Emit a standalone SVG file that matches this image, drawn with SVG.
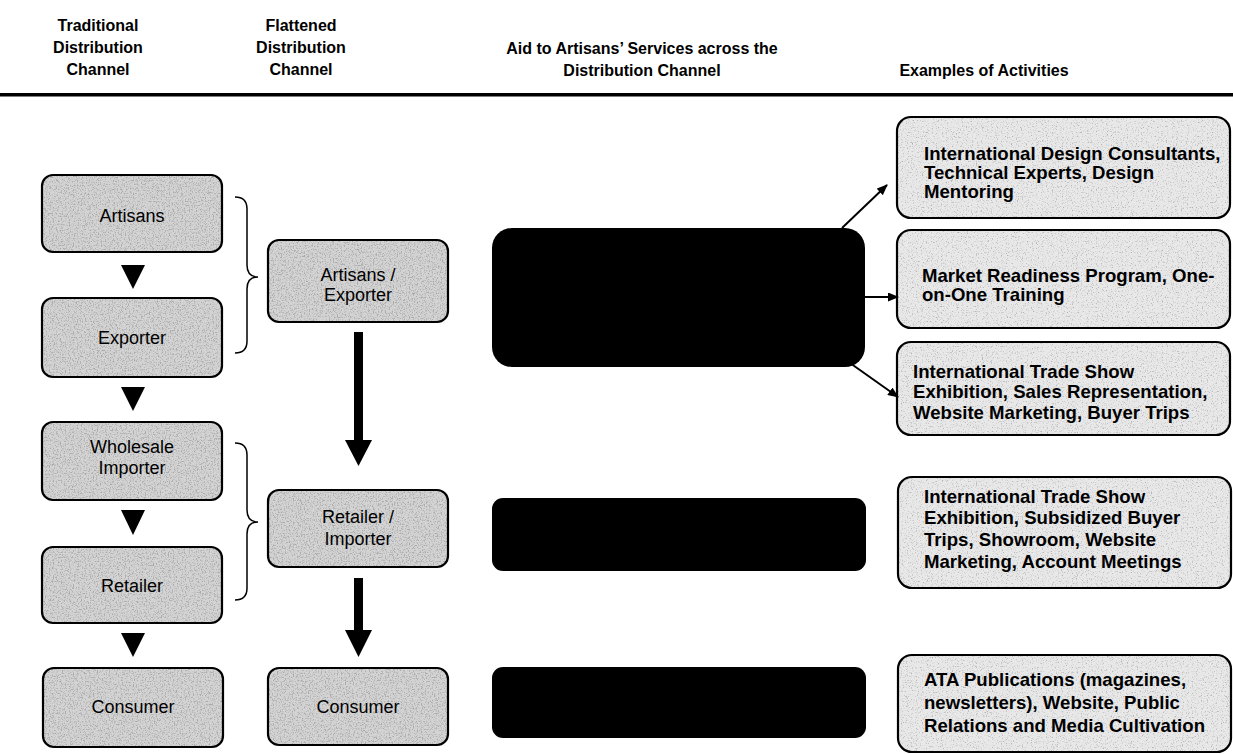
<svg xmlns="http://www.w3.org/2000/svg" width="1233" height="754" viewBox="0 0 1233 754">
  <style>
    .hdr { font-family: "Liberation Sans", Arial, sans-serif; font-weight: bold; font-size: 16px; fill: #000; text-anchor: middle; }
    .lbl { font-family: "Liberation Sans", Arial, sans-serif; font-size: 18px; fill: #000; text-anchor: middle; }
    .act { font-family: "Liberation Sans", Arial, sans-serif; font-weight: bold; font-size: 18.6px; fill: #000; }
    .boxL { fill: #d4d4d4; filter: url(#grainDark); }
    .boxR { fill: #e8e8e8; filter: url(#grainLight); }
    .edge { fill: none; stroke: #000; stroke-width: 2.2; }
    .blk { fill: #000; }
    .brace { fill: none; stroke: #000; stroke-width: 1.5; }
    .conn { stroke: #000; stroke-width: 2; fill: none; marker-end: url(#ah); }
  </style>
  <defs>
    <filter id="grainDark" x="0" y="0" width="1" height="1">
      <feTurbulence type="fractalNoise" baseFrequency="0.75" numOctaves="2" seed="4" result="t"/>
      <feColorMatrix in="t" type="matrix" values="0 0 0 0 0.4  0 0 0 0 0.4  0 0 0 0 0.4  4 0 0 0 -1.9" result="sp"/>
      <feComposite in="sp" in2="SourceGraphic" operator="in" result="spc"/>
      <feMerge><feMergeNode in="SourceGraphic"/><feMergeNode in="spc"/></feMerge>
    </filter>
    <filter id="grainLight" x="0" y="0" width="1" height="1">
      <feTurbulence type="fractalNoise" baseFrequency="0.8" numOctaves="2" seed="9" result="t"/>
      <feColorMatrix in="t" type="matrix" values="0 0 0 0 0.45  0 0 0 0 0.45  0 0 0 0 0.45  4 0 0 0 -2.2" result="sp"/>
      <feComposite in="sp" in2="SourceGraphic" operator="in" result="spc"/>
      <feMerge><feMergeNode in="SourceGraphic"/><feMergeNode in="spc"/></feMerge>
    </filter>
    <marker id="ah" markerWidth="11" markerHeight="9" refX="10" refY="4.5" orient="auto" markerUnits="userSpaceOnUse">
      <path d="M0,0 L11,4.5 L0,9 Z" fill="#000"/>
    </marker>
  </defs>

  <rect x="0" y="0" width="1233" height="754" fill="#fff"/>

  <g id="header">
    <text class="hdr" x="98" y="31">Traditional</text>
    <text class="hdr" x="98" y="53">Distribution</text>
    <text class="hdr" x="98" y="75">Channel</text>
    <text class="hdr" x="301" y="31">Flattened</text>
    <text class="hdr" x="301" y="53">Distribution</text>
    <text class="hdr" x="301" y="75">Channel</text>
    <text class="hdr" x="642" y="54">Aid to Artisans’ Services across the</text>
    <text class="hdr" x="642" y="76">Distribution Channel</text>
    <text class="hdr" x="984" y="76">Examples of Activities</text>
    <rect x="0" y="93" width="1233" height="3.5" fill="#000"/>
  </g>

  <g id="trad-artisans">
    <rect class="boxL" x="42" y="175" width="180" height="77" rx="11"/>
    <rect class="edge" x="42" y="175" width="180" height="77" rx="11"/>
    <text class="lbl" x="132" y="222">Artisans</text>
  </g>
  <g id="trad-exporter">
    <rect class="boxL" x="42" y="298" width="180" height="79" rx="11"/>
    <rect class="edge" x="42" y="298" width="180" height="79" rx="11"/>
    <text class="lbl" x="132" y="344">Exporter</text>
  </g>
  <g id="trad-wholesale">
    <rect class="boxL" x="42" y="422" width="180" height="78" rx="11"/>
    <rect class="edge" x="42" y="422" width="180" height="78" rx="11"/>
    <text class="lbl" x="132" y="453">Wholesale</text>
    <text class="lbl" x="132" y="474">Importer</text>
  </g>
  <g id="trad-retailer">
    <rect class="boxL" x="42" y="547" width="180" height="76" rx="11"/>
    <rect class="edge" x="42" y="547" width="180" height="76" rx="11"/>
    <text class="lbl" x="132" y="592">Retailer</text>
  </g>
  <g id="trad-consumer">
    <rect class="boxL" x="43" y="668" width="180" height="79" rx="11"/>
    <rect class="edge" x="43" y="668" width="180" height="79" rx="11"/>
    <text class="lbl" x="133" y="713">Consumer</text>
  </g>

  <g id="flat-artisans-exporter">
    <rect class="boxL" x="268" y="240" width="180" height="82" rx="11"/>
    <rect class="edge" x="268" y="240" width="180" height="82" rx="11"/>
    <text class="lbl" x="358" y="281">Artisans /</text>
    <text class="lbl" x="358" y="301">Exporter</text>
  </g>
  <g id="flat-retailer-importer">
    <rect class="boxL" x="268" y="490" width="180" height="77" rx="11"/>
    <rect class="edge" x="268" y="490" width="180" height="77" rx="11"/>
    <text class="lbl" x="358" y="523">Retailer /</text>
    <text class="lbl" x="358" y="545">Importer</text>
  </g>
  <g id="flat-consumer">
    <rect class="boxL" x="268" y="668" width="180" height="77" rx="11"/>
    <rect class="edge" x="268" y="668" width="180" height="77" rx="11"/>
    <text class="lbl" x="358" y="713">Consumer</text>
  </g>

  <g id="aid-1"><rect class="blk" x="492" y="228" width="373" height="139" rx="20"/></g>
  <g id="aid-2"><rect class="blk" x="492" y="498" width="374" height="73" rx="11"/></g>
  <g id="aid-3"><rect class="blk" x="492" y="667" width="374" height="71" rx="11"/></g>

  <g id="act-design">
    <rect class="boxR" x="897" y="117" width="333" height="101" rx="14"/>
    <rect class="edge" x="897" y="117" width="333" height="101" rx="14"/>
    <text class="act" x="924" y="160">International Design Consultants,</text>
    <text class="act" x="924" y="179">Technical Experts, Design</text>
    <text class="act" x="924" y="198">Mentoring</text>
  </g>
  <g id="act-market">
    <rect class="boxR" x="897" y="230" width="333" height="98" rx="14"/>
    <rect class="edge" x="897" y="230" width="333" height="98" rx="14"/>
    <text class="act" x="922" y="282">Market Readiness Program, One-</text>
    <text class="act" x="922" y="301">on-One Training</text>
  </g>
  <g id="act-tradeshow">
    <rect class="boxR" x="897" y="342" width="333" height="93" rx="14"/>
    <rect class="edge" x="897" y="342" width="333" height="93" rx="14"/>
    <text class="act" x="913" y="378">International Trade Show</text>
    <text class="act" x="913" y="398">Exhibition, Sales Representation,</text>
    <text class="act" x="913" y="419">Website Marketing, Buyer Trips</text>
  </g>
  <g id="act-showroom">
    <rect class="boxR" x="898" y="477" width="333" height="111" rx="14"/>
    <rect class="edge" x="898" y="477" width="333" height="111" rx="14"/>
    <text class="act" x="924" y="503">International Trade Show</text>
    <text class="act" x="924" y="524">Exhibition, Subsidized Buyer</text>
    <text class="act" x="924" y="546">Trips, Showroom, Website</text>
    <text class="act" x="924" y="568">Marketing, Account Meetings</text>
  </g>
  <g id="act-publications">
    <rect class="boxR" x="898" y="655" width="333" height="97" rx="14"/>
    <rect class="edge" x="898" y="655" width="333" height="97" rx="14"/>
    <text class="act" x="924" y="686">ATA Publications (magazines,</text>
    <text class="act" x="924" y="709">newsletters), Website, Public</text>
    <text class="act" x="924" y="732">Relations and Media Cultivation</text>
  </g>

  <g id="connectors">
    <path class="brace" d="M235,197 Q247,197 247,209 L247,265 Q247,277 258,277 Q247,277 247,289 L247,341 Q247,353 235,353"/>
    <path class="brace" d="M235,443 Q247,443 247,455 L247,510 Q247,522 258,522 Q247,522 247,534 L247,588 Q247,600 235,600"/>
    <path d="M121,265 L145,265 L133,289 Z" fill="#000"/>
    <path d="M121,387 L145,387 L133,411 Z" fill="#000"/>
    <path d="M121,510 L145,510 L133,535 Z" fill="#000"/>
    <path d="M121,633 L145,633 L133,657 Z" fill="#000"/>
    <rect x="354" y="332" width="9" height="110" fill="#000"/>
    <path d="M345,440 L372,440 L358.5,466 Z" fill="#000"/>
    <rect x="354" y="578" width="9" height="54" fill="#000"/>
    <path d="M345,630 L372,630 L358.5,657 Z" fill="#000"/>
    <line class="conn" x1="842" y1="228" x2="887" y2="185"/>
    <line class="conn" x1="865" y1="297" x2="898" y2="297"/>
    <line class="conn" x1="850" y1="363" x2="898" y2="397"/>
  </g>
</svg>
